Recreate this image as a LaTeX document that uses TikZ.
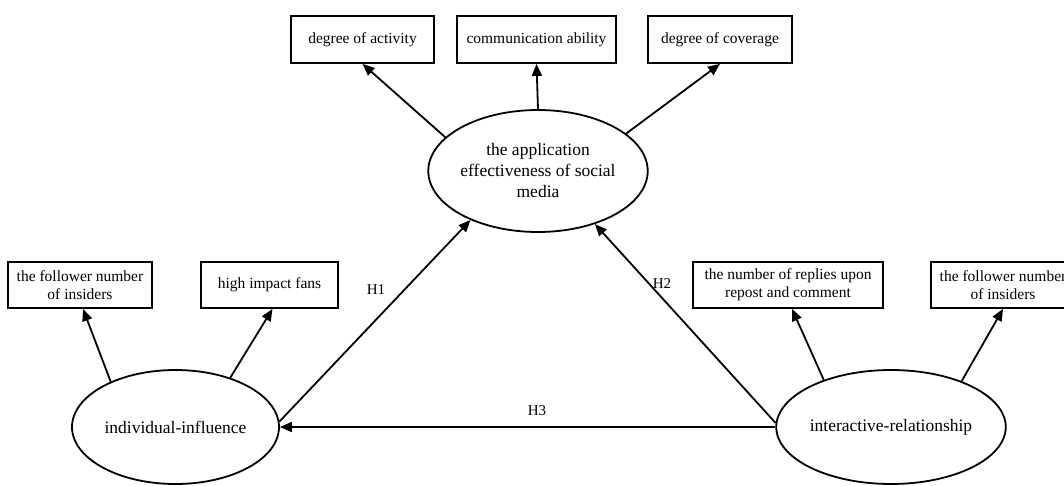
\documentclass[tikz,border=0pt]{standalone}
\usepackage{fontspec}
\setmainfont{Liberation Serif}
\usetikzlibrary{shapes.geometric,arrows.meta,calc}
\begin{document}
\begin{tikzpicture}[x=1pt,y=-1pt,
  box/.style={draw,line width=1.8pt,rectangle,inner sep=0pt,align=center,font=\fontsize{15.5}{18}\selectfont},
  ell/.style={draw,line width=1.8pt,ellipse,inner sep=0pt,align=center,font=\fontsize{17.5}{21}\selectfont},
  arr/.style={line width=1.8pt,-{Triangle[length=12pt,width=10pt]}},
  lab/.style={font=\fontsize{15}{18}\selectfont,inner sep=0pt}]
\useasboundingbox (0,0) rectangle (1064,485);
% top boxes
\node[box,minimum width=143pt,minimum height=47pt] (t1) at (362.5,39.5) {degree of activity};
\node[box,minimum width=159pt,minimum height=47pt] (t2) at (536.5,39.5) {communication ability};
\node[box,minimum width=144pt,minimum height=47pt] (t3) at (720,39.5) {degree of coverage};
% middle boxes
\node[box,minimum width=144pt,minimum height=46pt] (ma) at (80,285) {the follower number\\of insiders};
\node[box,minimum width=137pt,minimum height=46pt] (mb) at (269.5,285) {high impact fans};
\node[box,minimum width=190pt,minimum height=46pt] (mc) at (788,285) {the number of replies upon\\repost and comment};
\node[box,minimum width=144pt,minimum height=46pt] (md) at (1003,285) {the follower number\\of insiders};
% ellipses
\node[ell,minimum width=207pt,minimum height=122pt] (c) at (538,171) {the application\\effectiveness of social\\media};
\node[ell,minimum width=207pt,minimum height=114pt] (l) at (175.5,427) {individual-influence};
\node[ell,minimum width=208pt,minimum height=114pt] (r) at (891,427) {interactive-relationship};
% arrows
\draw[arr] (c.160) -- (t1.south);
\draw[arr] (c.north) -- (t2.south);
\draw[arr] (c.23) -- (t3.south);
\draw[arr] (l.145) -- ($(ma.south)+(3,0)$);
\draw[arr] (l.42) -- ($(mb.south)+(3,0)$);
\draw[arr] (r.145) -- ($(mc.south)+(4,0)$);
\draw[arr] (r.33) -- (md.south);
\draw[arr] (l.3) -- (c.216);
\draw[arr] (r.178) -- (c.317);
\draw[arr] (r.west) -- (l.east);
% labels
\node[lab] (h1) at (376,290) {H1};
\node[lab] (h2) at (662,284) {H2};
\node[lab] (h3) at (537,411) {H3};
\end{tikzpicture}
\end{document}
